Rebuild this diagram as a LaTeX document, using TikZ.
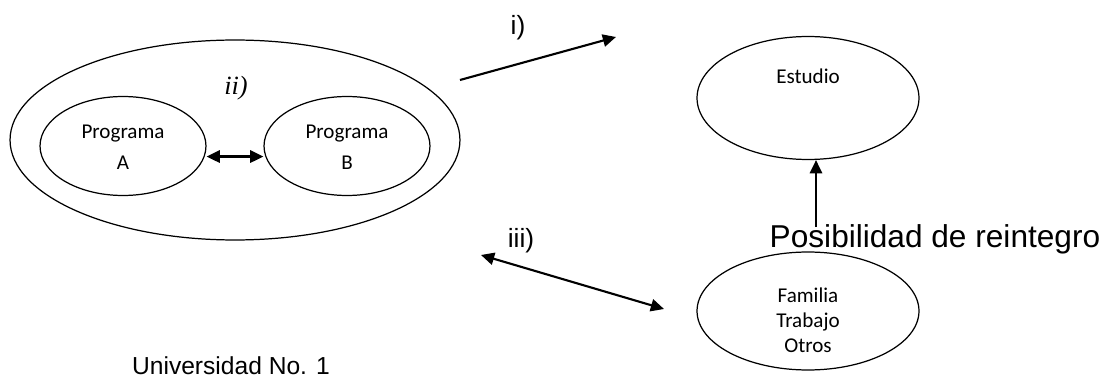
\documentclass[tikz,border=0pt]{standalone}
\usepackage{fontspec}
\setmainfont{Carlito}
\newfontfamily\arialfont{Liberation Sans}
\newfontfamily\romanfont{Liberation Serif}
\usetikzlibrary{arrows.meta,shapes.geometric,calc}
\tikzset{
  oval/.style={ellipse, draw, line width=0.7pt, inner sep=0pt},
  inner/.style={align=center, font=\fontsize{12}{17.5}\selectfont},
  tag/.style={font=\arialfont\fontsize{15}{18}\selectfont},
  line/.style={-{Triangle[length=7.5pt,width=7pt]}, line width=1.2pt},
  dline/.style={{Triangle[length=7.5pt,width=7pt]}-{Triangle[length=7.5pt,width=7pt]}, line width=1.2pt}
}
\begin{document}
\begin{tikzpicture}[x=0.02cm, y=-0.02cm]
        \useasboundingbox (0,0) rectangle (1103,385);
        % left block
        \node[oval, minimum width=9cm, minimum height=4cm] (univ) at (235,140) {};
        \node[oval, minimum width=3.32cm, minimum height=1.98cm] (progA) at (123,146) {};
        \node[oval, minimum width=3.32cm, minimum height=1.98cm] (progB) at (347,146) {};
        \node[inner] (progAtxt) at (123,147) {Programa\\A};
        \node[inner] (progBtxt) at (347,147) {Programa\\B};
        \node[font=\romanfont\itshape\fontsize{15}{18}\selectfont] (ii) at (236,88) {ii)};
        \draw[dline] ([yshift=-6pt]progA.east) -- ([yshift=-6pt]progB.west);
        \node[font=\arialfont\fontsize{14}{17}\selectfont] (univtxt) at (231,366) {Universidad No. 1};
        % right block
        \node[oval, minimum width=4.44cm, minimum height=2.46cm] (estudio) at (808,98) {};
        \node[inner] (estudiotxt) at (808,76) {Estudio};
        \node[oval, minimum width=4.44cm, minimum height=2.36cm] (familia) at (808,311) {};
        \node[align=center, font=\fontsize{12}{14.3}\selectfont] (familiatxt) at (808,320) {Familia\\Trabajo\\Otros};
        \node[font=\arialfont\fontsize{18}{21}\selectfont] (reinttxt) at (935,239) {Posibilidad de reintegro};
        \coordinate (reint) at (816,227);
        \draw[line] (reint) -- (reint |- estudio.south);
        % links
        \coordinate (itail) at (460,80);
        \coordinate (itip) at (616,37);
        \draw[line] (itail) -- (itip);
        \node[tag] (i) at (518,28) {i)};
        \coordinate (iiia) at (481,255);
        \coordinate (iiib) at (664,309);
        \draw[dline] (iiia) -- (iiib);
        \node[tag] (iii) at (521,241) {iii)};
      \end{tikzpicture}
\end{document}
